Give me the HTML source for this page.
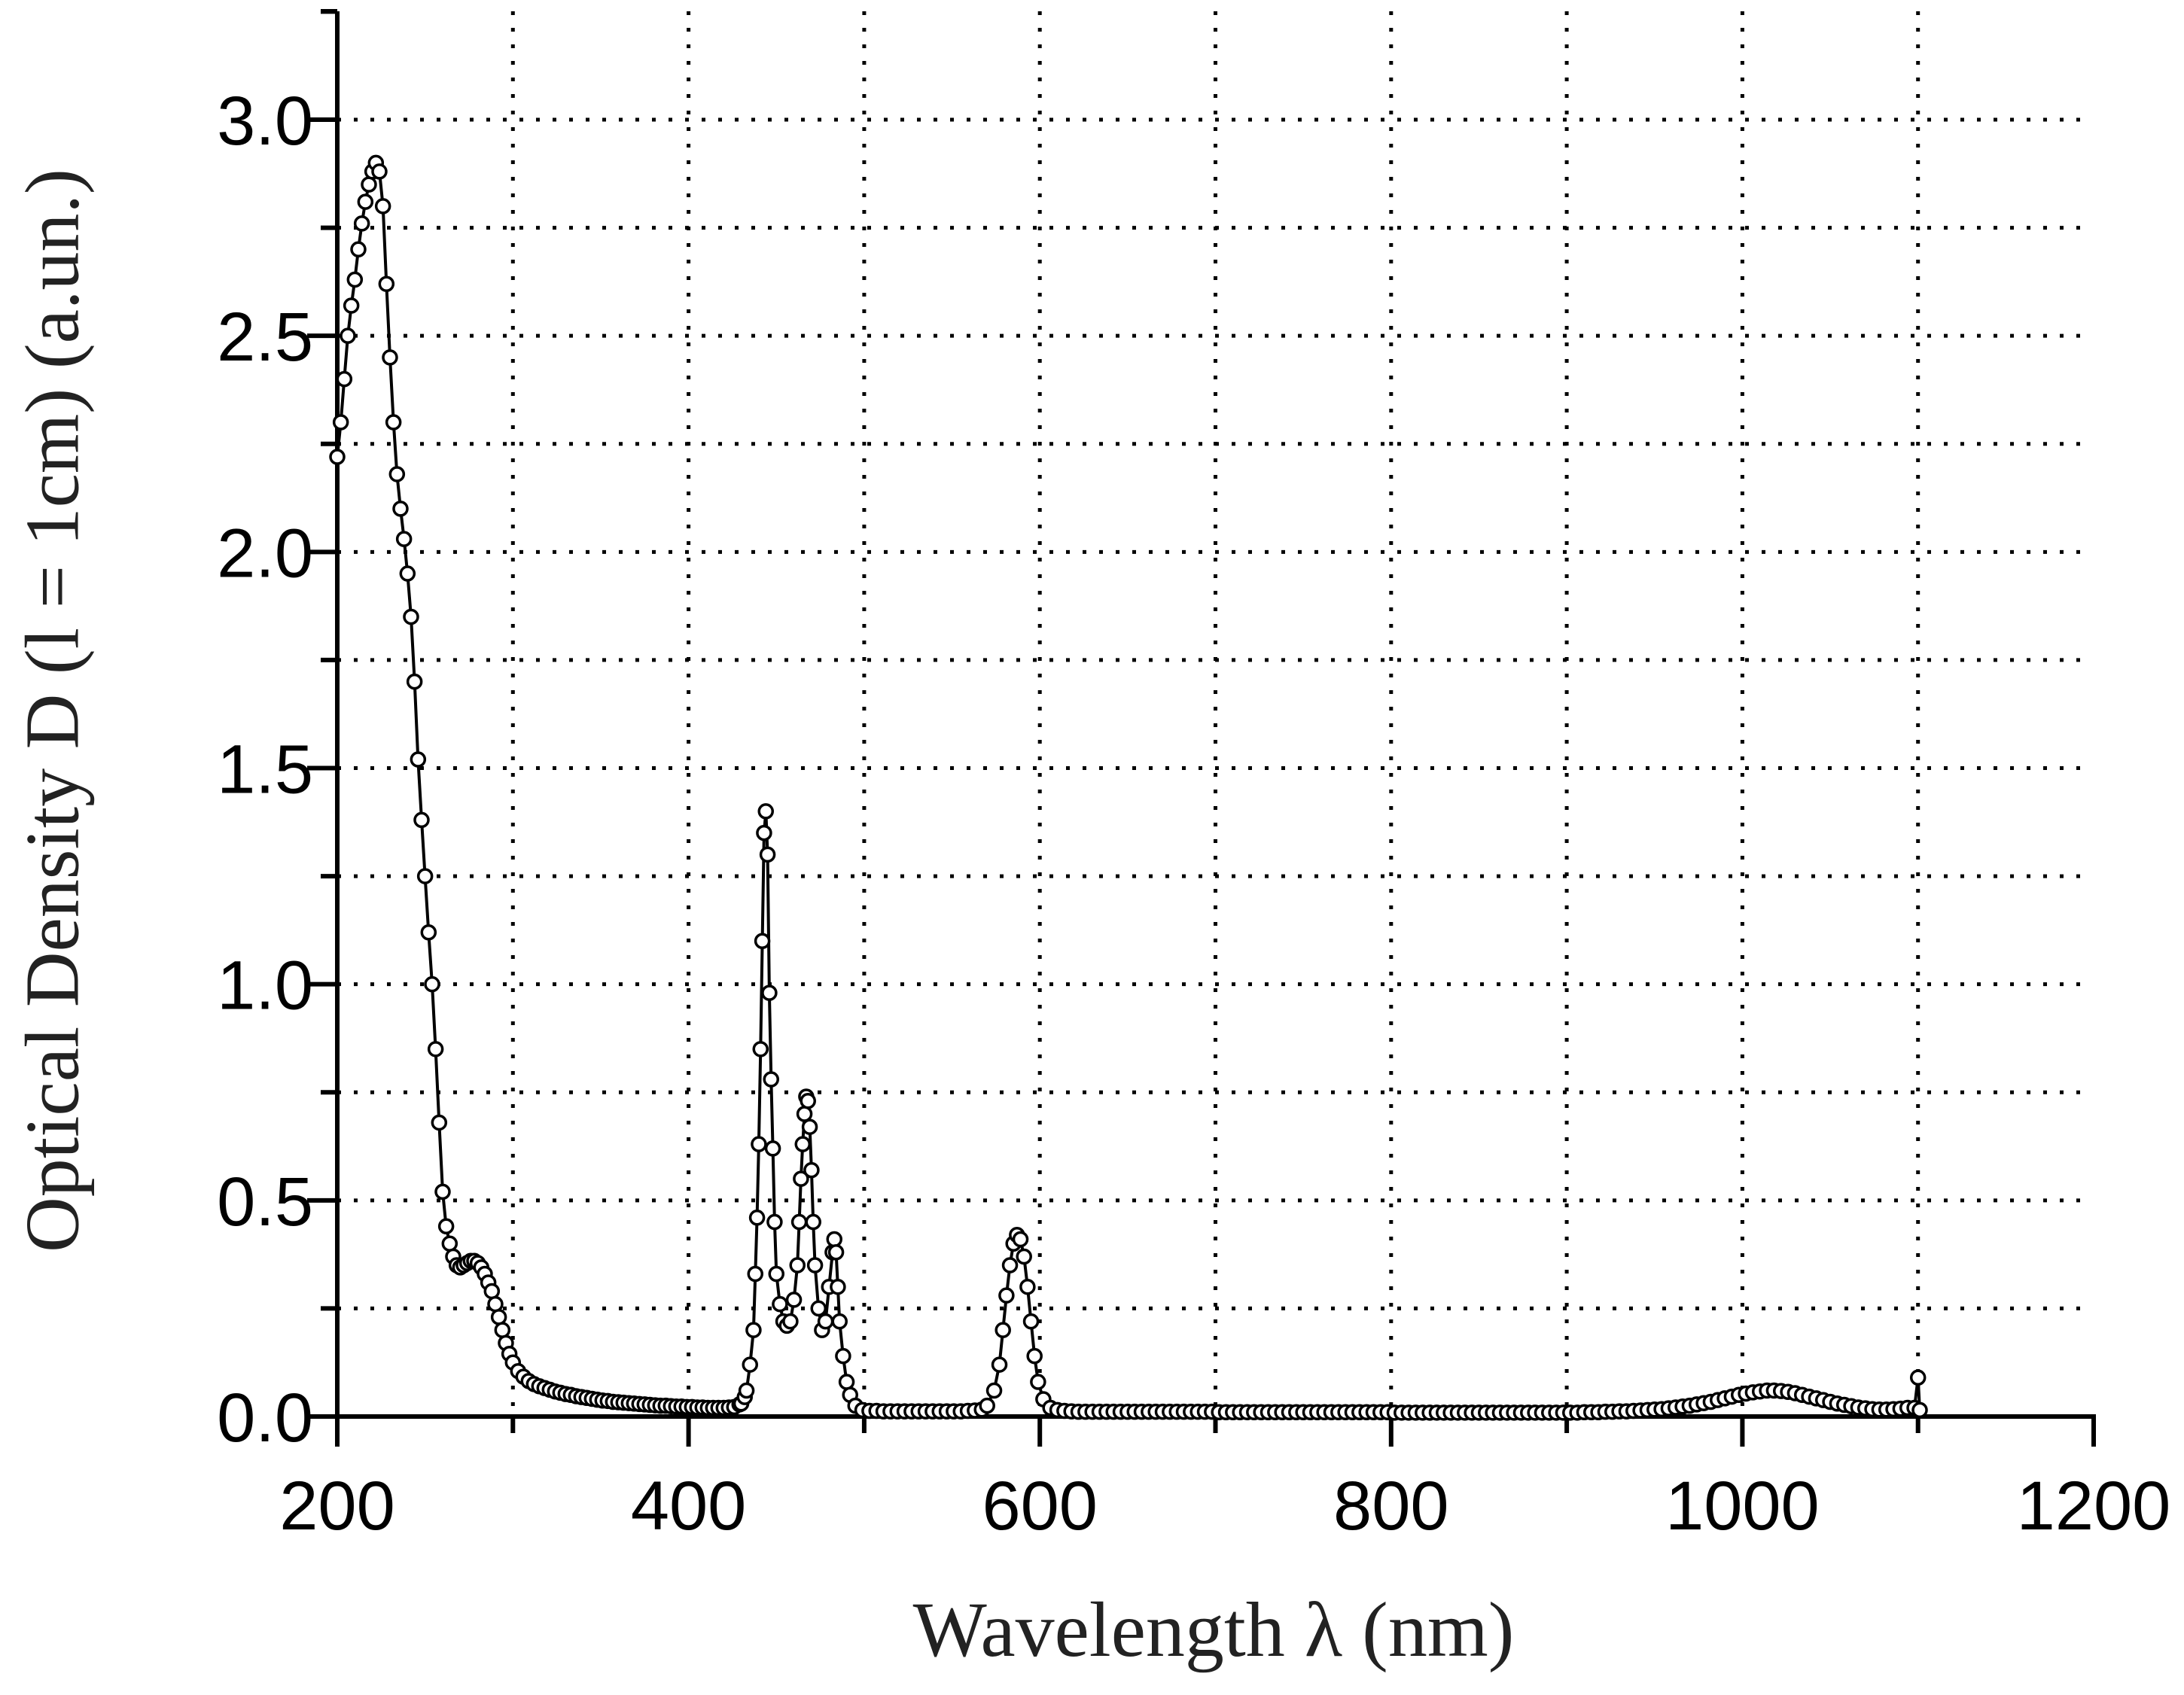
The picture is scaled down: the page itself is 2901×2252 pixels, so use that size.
<!DOCTYPE html>
<html><head><meta charset="utf-8"><style>
body{margin:0;background:#fff}
svg{display:block}
</style></head><body>
<svg id="chart" width="2901" height="2252" viewBox="0 0 2901 2252" xmlns="http://www.w3.org/2000/svg">
<g id="grid"></g>
<g id="axes"></g>
<g id="series"></g>
<text x="70" y="944" transform="rotate(-90 70 944)" text-anchor="middle" dominant-baseline="central" font-family="Liberation Serif, serif" font-size="102" fill="#222">Optical Density D (l = 1cm) (a.un.)</text>
<text x="1612" y="2200" text-anchor="middle" font-family="Liberation Serif, serif" font-size="104" fill="#222">Wavelength λ (nm)</text>
</svg>
<script>
const wavelengths=[200,202,204,206,208,210,212,214,216,218,220,222,224,226,228,230,232,234,236,238,240,242,244,246,248,250,252,254,256,258,260,262,264,266,268,270,272,274,276,278,280,282,284,286,288,290,292,294,296,298,300,
303,306,309,312,315,318,321,324,327,330,333,336,339,342,345,348,351,354,357,360,363,366,369,372,375,378,381,384,387,390,393,396,399,402,405,408,411,414,417,420,423,426,429,
430,432,433,435,437,438,439,440,441,442,443,444,445,446,447,448,449,450,452,454,456,458,460,462,463,464,465,466,467,468,469,470,471,472,474,476,478,480,482,483,484,485,486,488,490,492,495,499,
503,507,511,515,519,523,527,531,535,539,543,547,551,555,559,563,567,
570,574,577,579,581,583,585,587,589,591,593,595,597,599,602,606,
610,614,618,622,626,630,634,638,642,646,650,654,658,662,666,670,674,678,682,686,690,694,698,
702,706,710,714,718,722,726,730,734,738,742,746,750,754,758,762,766,770,774,778,782,786,790,794,798,
802,806,810,814,818,822,826,830,834,838,842,846,850,854,858,862,866,870,874,878,882,886,890,894,898,
902,906,910,914,918,922,926,930,934,938,942,946,
950,954,958,962,966,970,974,978,982,986,990,994,
998,1002,1006,1010,1014,1018,1022,1026,1030,1034,1038,1042,
1046,1050,1054,1058,1062,1066,1070,1074,1078,1082,1086,1090,
1094,1098,1100,1101];
const densities=[2.22,2.30,2.40,2.50,2.57,2.63,2.70,2.76,2.81,2.85,2.88,2.90,2.88,2.80,2.62,2.45,2.30,2.18,2.10,2.03,1.95,1.85,1.70,1.52,1.38,1.25,1.12,1.00,0.85,0.68,0.52,0.44,0.40,0.37,0.35,0.345,0.35,0.355,0.36,0.36,0.355,0.345,0.33,0.31,0.29,0.26,0.23,0.20,0.17,0.145,0.125,
0.105,0.092,0.082,0.075,0.07,0.066,0.062,0.058,0.055,0.052,0.05,0.047,0.045,0.043,0.041,0.039,0.037,0.036,0.034,0.033,0.032,0.031,0.03,0.029,0.028,0.027,0.026,0.025,0.025,0.024,0.023,0.023,0.022,0.022,0.021,0.021,0.02,0.02,0.02,0.02,0.021,0.022,0.028,
0.03,0.045,0.06,0.12,0.2,0.33,0.46,0.63,0.85,1.1,1.35,1.40,1.30,0.98,0.78,0.62,0.45,0.33,0.26,0.22,0.21,0.22,0.27,0.35,0.45,0.55,0.63,0.70,0.74,0.73,0.67,0.57,0.45,0.35,0.25,0.20,0.22,0.30,0.38,0.41,0.38,0.30,0.22,0.14,0.08,0.05,0.025,0.015,
0.013,0.013,0.012,0.012,0.012,0.012,0.012,0.012,0.012,0.012,0.012,0.012,0.012,0.012,0.013,0.014,0.016,
0.025,0.06,0.12,0.20,0.28,0.35,0.40,0.42,0.41,0.37,0.30,0.22,0.14,0.08,0.04,0.02,
0.015,0.013,0.012,0.011,0.011,0.011,0.011,0.011,0.011,0.011,0.011,0.011,0.011,0.011,0.011,0.011,0.011,0.011,0.011,0.011,0.011,0.011,0.011,
0.01,0.01,0.01,0.01,0.01,0.01,0.01,0.01,0.01,0.01,0.01,0.01,0.01,0.01,0.01,0.01,0.01,0.01,0.01,0.01,0.01,0.01,0.01,0.01,0.01,
0.009,0.009,0.009,0.009,0.009,0.009,0.009,0.009,0.009,0.009,0.009,0.009,0.009,0.009,0.009,0.009,0.009,0.009,0.009,0.009,0.009,0.009,0.009,0.009,0.009,
0.009,0.009,0.01,0.01,0.01,0.011,0.011,0.012,0.012,0.013,0.014,0.015,
0.016,0.017,0.019,0.021,0.023,0.025,0.028,0.031,0.034,0.038,0.042,0.046,
0.05,0.053,0.056,0.058,0.06,0.06,0.059,0.057,0.054,0.05,0.046,0.042,
0.038,0.034,0.03,0.027,0.024,0.021,0.019,0.017,0.016,0.016,0.017,0.018,
0.02,0.02,0.09,0.015];
const xTicks=[200,400,600,800,1000,1200];
const xTickLabels=["200","400","600","800","1000","1200"];
const yTicks=[0,0.5,1.0,1.5,2.0,2.5,3.0];
const yTickLabels=["0.0","0.5","1.0","1.5","2.0","2.5","3.0"];

const NS="http://www.w3.org/2000/svg";
const X0=448,X1=2781,Y0=1882,Y3=159;
const sx=v=>X0+(v-200)/1000*(X1-X0);
const sy=v=>Y0-v/3*(Y0-Y3);
function mk(tag,attrs,parent){const e=document.createElementNS(NS,tag);for(const k in attrs)e.setAttribute(k,attrs[k]);parent.appendChild(e);return e;}
const grid=document.getElementById('grid'),axes=document.getElementById('axes'),series=document.getElementById('series');
for(let v=300;v<=1100;v+=100){const l=mk('line',{x1:sx(v),x2:sx(v),y1:15,y2:Y0,stroke:'#000','stroke-width':5,'stroke-dasharray':'5 17'},grid);

}
for(let v=0.25;v<=3.01;v+=0.25){const l=mk('line',{x1:X0,x2:X1-10,y1:sy(v),y2:sy(v),stroke:'#000','stroke-width':5,'stroke-dasharray':'5 17'},grid);

}
const ya=mk('line',{x1:X0,x2:X0,y1:15,y2:Y0+40,stroke:'#000','stroke-width':6},axes);


const xa=mk('line',{x1:X0-40,x2:X1+3,y1:Y0,y2:Y0,stroke:'#000','stroke-width':6},axes);


mk('line',{x1:X0,x2:X0-22,y1:15,y2:15,stroke:'#000','stroke-width':6},axes);
xTicks.forEach((v,i)=>{mk('line',{x1:sx(v),x2:sx(v),y1:Y0,y2:Y0+40,stroke:'#000','stroke-width':6},axes);
 if(i<xTicks.length-1)mk('line',{x1:sx(v+100),x2:sx(v+100),y1:Y0,y2:Y0+22,stroke:'#000','stroke-width':6},axes);
 const t=mk('text',{x:sx(v),y:Y0+150,'text-anchor':'middle','font-family':'Liberation Sans, sans-serif','font-size':92,fill:'#000'},axes);t.textContent=xTickLabels[i];
 
 });
yTicks.forEach((v,i)=>{mk('line',{x1:X0,x2:X0-40,y1:sy(v),y2:sy(v),stroke:'#000','stroke-width':6},axes);
 mk('line',{x1:X0,x2:X0-22,y1:sy(v+0.25),y2:sy(v+0.25),stroke:'#000','stroke-width':6},axes);
 const t=mk('text',{x:X0-32,y:sy(v)+33,'text-anchor':'end','font-family':'Liberation Sans, sans-serif','font-size':92,fill:'#000'},axes);t.textContent=yTickLabels[i];
 
 });
const pts=wavelengths.map((w,i)=>sx(w).toFixed(1)+','+sy(densities[i]).toFixed(1)).join(' ');
const pl=mk('polyline',{points:pts,fill:'none',stroke:'#000','stroke-width':4},series);


wavelengths.forEach((w,i)=>{const c=mk('circle',{cx:sx(w),cy:sy(densities[i]),r:9,fill:'#fff',stroke:'#000','stroke-width':3.5},series);
 
 });
</script>
</body></html>
